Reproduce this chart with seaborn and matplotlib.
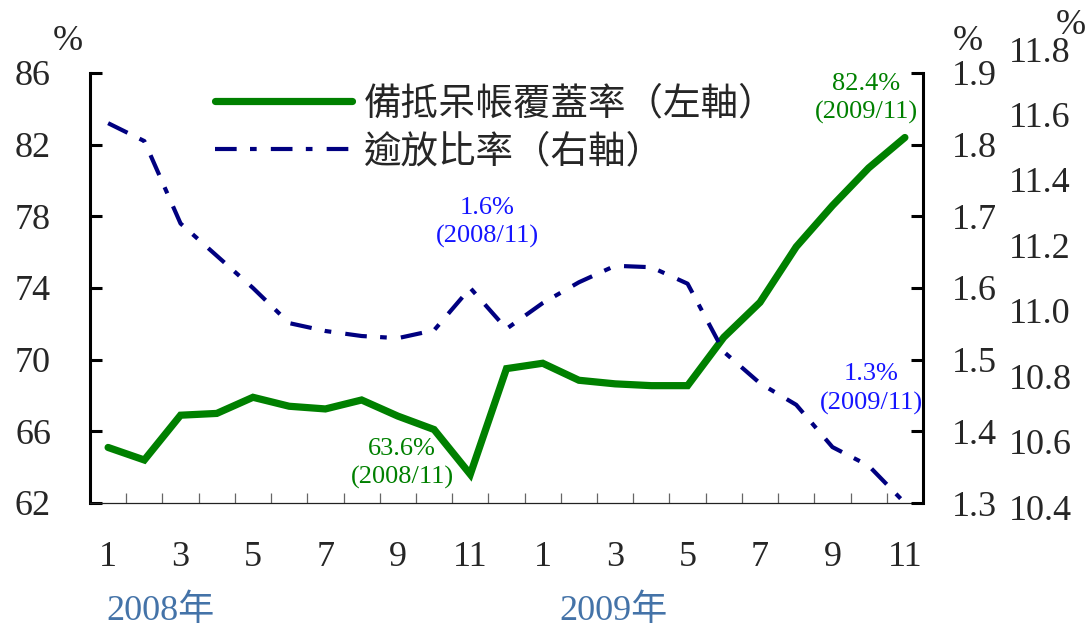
import numpy as np
import pandas as pd
import matplotlib
matplotlib.use("Agg")
import matplotlib.pyplot as plt
from matplotlib.ticker import FormatStrFormatter
import seaborn as sns

# Monthly series, Jan 2008 - Nov 2009
month_labels = ["1", "3", "5", "7", "9", "11", "1", "3", "5", "7", "9", "11"]
coverage_ratio = [65.1, 64.4, 66.9, 67.0, 67.9, 67.4, 67.25, 67.75, 66.85, 66.1, 63.6,
                  69.5, 69.8, 68.85, 68.65, 68.55, 68.55, 71.25, 73.2, 76.3, 78.6, 80.7, 82.4]
npl_ratio = [1.83, 1.805, 1.69, 1.645, 1.60, 1.551, 1.54, 1.533, 1.53, 1.541, 1.60,
             1.543, 1.579, 1.608, 1.631, 1.629, 1.606, 1.511, 1.467, 1.437, 1.378, 1.352, 1.30]
left_ticks = [62, 66, 70, 74, 78, 82, 86]
right_ticks = [1.3, 1.4, 1.5, 1.6, 1.7, 1.8, 1.9]
outer_ticks = [10.4, 10.6, 10.8, 11.0, 11.2, 11.4, 11.6, 11.8]
series_names = ["備抵呆帳覆蓋率（左軸）", "逾放比率（右軸）"]
year_names = ["2008年", "2009年"]

df = pd.DataFrame({"idx": np.arange(len(coverage_ratio)),
                   "coverage": coverage_ratio,
                   "npl": npl_ratio})

sns.set_style("white")
plt.rcParams["font.family"] = ["Liberation Serif", "Noto Sans CJK TC", "DejaVu Sans"]

GREEN = "#008000"
NAVY = "#000080"
BLUE = "#1515ff"
YEAR = "#4473a8"

W, H = 1086, 626
fig = plt.figure(figsize=(W / 100, H / 100), dpi=100)
ax = fig.add_axes([90 / W, (H - 503) / H, 833 / W, 430 / H])
ax2 = ax.twinx()

sns.lineplot(data=df, x="idx", y="coverage", ax=ax, color=GREEN, linewidth=5.2,
             solid_capstyle="round", solid_joinstyle="miter", label=series_names[0], legend=False)
sns.lineplot(data=df, x="idx", y="npl", ax=ax2, color=NAVY, linewidth=3.0,
             linestyle=(0, (5.2, 3.2, 1.6, 3.4)), dash_capstyle="butt",
             label=series_names[1], legend=False)

# axes ranges and ticks
ax.set_xlim(-0.5, len(coverage_ratio) - 0.5)
ax.set_ylim(62, 86)
ax2.set_ylim(1.3, 1.9)
ax.set_yticks(left_ticks)
ax2.set_yticks(right_ticks)
ax2.yaxis.set_major_formatter(FormatStrFormatter("%.1f"))
ax.set_xticks(np.arange(0, len(coverage_ratio), 2), month_labels)
ax.set_xticks(np.arange(0.5, len(coverage_ratio) - 1, 1), minor=True)
ax.set_xlabel("")
ax.set_ylabel("")
ax2.set_ylabel("")

for a in (ax, ax2):
    a.spines["top"].set_visible(False)
ax.spines["right"].set_visible(False)
ax2.spines["left"].set_visible(False)
ax2.spines["bottom"].set_visible(False)
ax.spines["left"].set_linewidth(2.2)
ax.spines["left"].set_color("black")
ax2.spines["right"].set_linewidth(2.2)
ax2.spines["right"].set_color("black")
ax.spines["bottom"].set_linewidth(0.9)
ax.spines["bottom"].set_color("#222222")

ax.tick_params(axis="y", left=True, right=False, direction="in", length=8.5, width=2.2,
               color="black", labelsize=26, pad=28)
ax2.tick_params(axis="y", left=False, right=True, direction="in", length=8.5, width=2.2,
                color="black", labelsize=26, pad=21)
ax.tick_params(axis="x", which="major", bottom=True, length=0, labelsize=26, pad=27)
ax.tick_params(axis="x", which="minor", bottom=True, direction="in", length=7.5,
               width=0.9, color="#666666")

# outer right-hand scale
ax3 = fig.add_axes([923 / W, (H - 507) / H, 0.001, 458 / H])
ax3.set_ylim(10.4, 11.8)
ax3.set_yticks(outer_ticks)
ax3.yaxis.set_major_formatter(FormatStrFormatter("%.1f"))
ax3.yaxis.tick_right()
ax3.tick_params(axis="y", length=0, labelsize=26, pad=61)
ax3.set_xticks([])
ax3.patch.set_visible(False)
for s in ax3.spines.values():
    s.set_visible(False)

# unit labels
fig.text(68 / W, 1 - 42 / H, "%", ha="center", va="center", fontsize=26)
fig.text(968 / W, 1 - 42 / H, "%", ha="center", va="center", fontsize=26)
fig.text(1071 / W, 1 - 26 / H, "%", ha="center", va="center", fontsize=26)

# year labels under the month ticks
xt = ax.get_xaxis_transform()
ax.text(1.45, -0.252, year_names[0], transform=xt, ha="center", va="center",
        fontsize=26, color=YEAR)
ax.text(13.95, -0.252, year_names[1], transform=xt, ha="center", va="center",
        fontsize=26, color=YEAR)

# value callouts
i_low = 10
i_last = len(coverage_ratio) - 1
ann = dict(textcoords="offset points", ha="center", va="center", fontsize=19,
           linespacing=1.35)
ax.annotate(f"{coverage_ratio[i_low]:.1f}%\n(2008/11)", (i_low, coverage_ratio[i_low]),
            xytext=(-49, 8), color=GREEN, **ann)
ax.annotate(f"{coverage_ratio[i_last]:.1f}%\n(2009/11)", (i_last, coverage_ratio[i_last]),
            xytext=(-28, 28), color=GREEN, **ann)
ax2.annotate(f"{npl_ratio[i_low]:.1f}%\n(2008/11)", (i_low, npl_ratio[i_low]),
             xytext=(12, 47), color=BLUE, **ann)
ax2.annotate(f"{npl_ratio[i_last]:.1f}%\n(2009/11)", (i_last, npl_ratio[i_last]),
             xytext=(-24, 82), color=BLUE, **ann)

# legend
handles = ax.get_lines()[:1] + ax2.get_lines()[:1]
leg = ax2.legend(handles, series_names, loc="upper left",
                 bbox_to_anchor=(215 / W, 1 - 84 / H), bbox_transform=fig.transFigure,
                 frameon=False, handlelength=3.65, handletextpad=0.32,
                 labelspacing=0.24, borderpad=0, borderaxespad=0,
                 prop={"family": ["Noto Sans CJK TC", "DejaVu Sans"], "size": 27})

fig.savefig("out.png", dpi=100)
